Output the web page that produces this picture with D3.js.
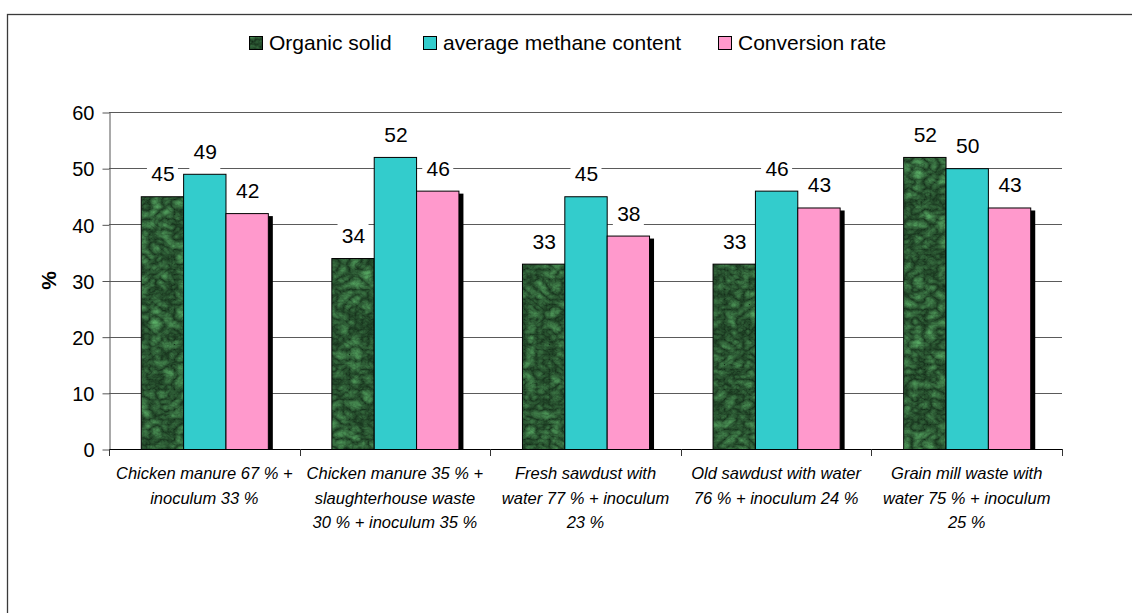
<!DOCTYPE html>
<html>
<head>
<meta charset="utf-8">
<script src="https://cdn.jsdelivr.net/npm/d3@7"></script>
<style>
  html, body { margin: 0; padding: 0; background: #fff; }
  svg { display: block; font-family: "Liberation Sans", Arial, sans-serif; }
</style>
</head>
<body>
<svg id="chart" width="1132" height="613"></svg>
<script>
// ---- data ----
const categories = [
  "Chicken manure 67 % +\ninoculum 33 %",
  "Chicken manure 35 % +\nslaughterhouse waste\n30 % + inoculum 35 %",
  "Fresh sawdust with\nwater 77 % + inoculum\n23 %",
  "Old sawdust with water\n76 % + inoculum 24 %",
  "Grain mill waste with\nwater 75 % + inoculum\n25 %"
];
const seriesNames = ["Organic solid", "average methane content", "Conversion rate"];
const organicSolid = [45, 34, 33, 33, 52];
const methaneContent = [49, 52, 45, 46, 50];
const conversionRate = [42, 46, 38, 43, 43];
const yTicks = [0, 10, 20, 30, 40, 50, 60];
const yAxisTitle = "%";

// ---- layout / style ----
const W = 1132, H = 613;
const plot = { left: 109, right: 1062, top: 112, bottom: 449 };
const seriesValues = [organicSolid, methaneContent, conversionRate];
const seriesFill = ["url(#marbleFill)", "#33CCCC", "#FF99CC"];
const seriesShadow = [false, false, true];
const fontFamily = '"Liberation Sans", Arial, sans-serif';

const svg = d3.select("#chart");

// defs: marble texture for the dark green series
const defs = svg.append("defs");
const pat = defs.append("pattern")
  .attr("id", "marbleFill").attr("patternUnits", "userSpaceOnUse")
  .attr("width", W).attr("height", H);
const filt = defs.append("filter").attr("id", "marbleFilter")
  .attr("x", 0).attr("y", 0).attr("width", W).attr("height", H)
  .attr("filterUnits", "userSpaceOnUse")
  .attr("color-interpolation-filters", "sRGB");
filt.append("feTurbulence").attr("type", "turbulence")
  .attr("baseFrequency", "0.08 0.1").attr("numOctaves", 4).attr("seed", 7).attr("result", "noise");
filt.append("feColorMatrix").attr("in", "noise").attr("type", "matrix")
  .attr("values", "0.3 0 0 0 0.08  0.55 0 0 0 0.18  0.33 0 0 0 0.1  0 0 0 0 1");
pat.append("rect").attr("width", W).attr("height", H).attr("fill", "#1a4226");
pat.append("rect").attr("width", W).attr("height", H).attr("filter", "url(#marbleFilter)");

// outer frame
svg.append("rect")
  .attr("x", 7.5).attr("y", 14.5).attr("width", W + 20).attr("height", H + 20)
  .attr("fill", "none").attr("stroke", "#3a3a3a").attr("stroke-width", 1.3);

// scales
const y = d3.scaleLinear().domain([0, 60]).range([plot.bottom, plot.top]);
const x0 = d3.scaleBand().domain(categories).range([plot.left, plot.right]).padding(0);
const x1 = d3.scaleBand().domain(seriesNames).range([0, x0.bandwidth()])
  .paddingInner(0).paddingOuter(0.75);

// gridlines
svg.append("g").selectAll("line").data(yTicks.filter(t => t > 0)).join("line")
  .attr("x1", plot.left).attr("x2", plot.right)
  .attr("y1", d => Math.round(y(d)) + 0.5).attr("y2", d => Math.round(y(d)) + 0.5)
  .attr("stroke", "#5a5a5a").attr("stroke-width", 1);

// y axis
const yAxis = svg.append("g")
  .attr("transform", `translate(${plot.left + 0.5},0.5)`)
  .call(d3.axisLeft(y).tickValues(yTicks).tickSize(7).tickPadding(8).tickSizeOuter(0));
yAxis.select(".domain").attr("stroke", "#555");
yAxis.selectAll(".tick line").attr("stroke", "#555");
yAxis.selectAll("text").attr("font-size", 20).attr("font-family", fontFamily).attr("fill", "#000")
  .attr("dy", "0.36em");

// y axis title
svg.append("text")
  .attr("transform", `translate(56,${(plot.top + plot.bottom) / 2}) rotate(-90)`)
  .attr("text-anchor", "middle").attr("font-size", 21).attr("font-weight", "bold")
  .attr("font-family", fontFamily).text(yAxisTitle);

// bars
const barData = [];
categories.forEach((c, i) => {
  seriesNames.forEach((s, j) => {
    barData.push({ cat: c, series: s, si: j, value: seriesValues[j][i] });
  });
});
const gBars = svg.append("g");
barData.forEach(d => {
  const bx = x0(d.cat) + x1(d.series);
  const bw = x1.bandwidth();
  const by = y(d.value);
  if (seriesShadow[d.si]) {
    gBars.append("rect")
      .attr("x", bx + 5).attr("y", by + 3)
      .attr("width", bw).attr("height", y(0) - by - 3)
      .attr("fill", "#000");
  }
  gBars.append("rect")
    .attr("x", bx + 0.5).attr("y", by + 0.5)
    .attr("width", bw).attr("height", y(0) - by)
    .attr("fill", seriesFill[d.si]).attr("stroke", "#000").attr("stroke-width", 1);
});

// x axis
svg.append("line")
  .attr("x1", plot.left).attr("x2", plot.right + 1)
  .attr("y1", plot.bottom + 0.5).attr("y2", plot.bottom + 0.5)
  .attr("stroke", "#000").attr("stroke-width", 1.2);
const boundaries = categories.map(c => x0(c)).concat([plot.right]);
svg.append("g").selectAll("line").data(boundaries).join("line")
  .attr("x1", d => Math.round(d) + 0.5).attr("x2", d => Math.round(d) + 0.5)
  .attr("y1", plot.bottom).attr("y2", plot.bottom + 7)
  .attr("stroke", "#333").attr("stroke-width", 1);

// category labels
const gCat = svg.append("g");
categories.forEach(c => {
  const t = gCat.append("text")
    .attr("x", x0(c) + x0.bandwidth() / 2).attr("y", 479)
    .attr("text-anchor", "middle").attr("font-size", 16.5).attr("font-style", "italic")
    .attr("font-family", fontFamily).attr("fill", "#000");
  c.split("\n").forEach((line, k) => {
    t.append("tspan").attr("x", x0(c) + x0.bandwidth() / 2).attr("dy", k === 0 ? 0 : 24.5).text(line);
  });
});

// data labels with white background
const gLab = svg.append("g");
barData.forEach(d => {
  const cx = x0(d.cat) + x1(d.series) + x1.bandwidth() / 2;
  const base = y(d.value) - 15;
  gLab.append("rect")
    .attr("x", cx - 15).attr("y", base - 21).attr("width", 31).attr("height", 32)
    .attr("fill", "#fff");
  gLab.append("text")
    .attr("x", cx + 1).attr("y", base)
    .attr("text-anchor", "middle").attr("font-size", 21)
    .attr("font-family", fontFamily).attr("fill", "#000")
    .text(d.value);
});

// legend
const legendX = [249, 423, 718];
const gLeg = svg.append("g");
seriesNames.forEach((s, j) => {
  gLeg.append("rect")
    .attr("x", legendX[j] + 0.5).attr("y", 36.5).attr("width", 13).attr("height", 13)
    .attr("fill", seriesFill[j]).attr("stroke", "#000").attr("stroke-width", 1);
  gLeg.append("text")
    .attr("x", legendX[j] + 20).attr("y", 50)
    .attr("font-size", 21).attr("font-family", fontFamily).attr("fill", "#000")
    .text(s);
});
</script>
</body>
</html>
